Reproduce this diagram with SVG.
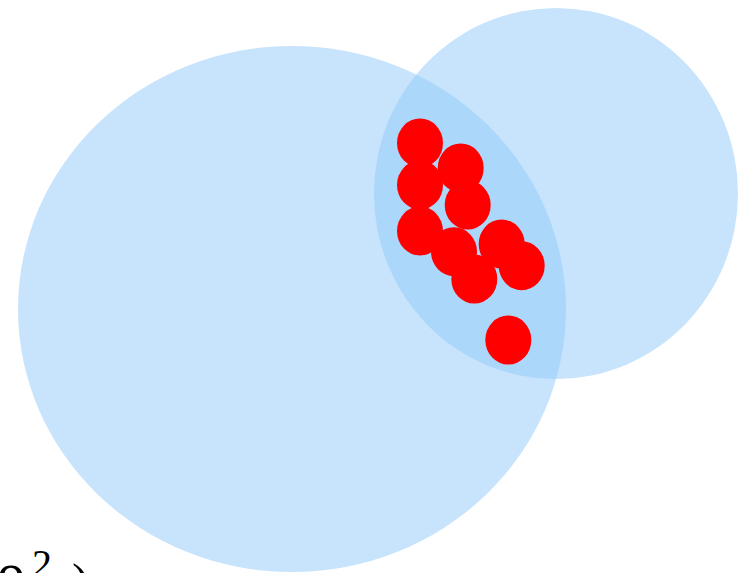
<svg xmlns="http://www.w3.org/2000/svg" width="738" height="573" viewBox="0 0 738 573">
<style>
.set{fill:#90CAF9;fill-opacity:0.5;stroke:none}
.pt{fill:#ff0000;stroke:none}
.lbl{font-family:"Liberation Serif","DejaVu Serif",serif;fill:#000}
</style>
<rect width="738" height="573" fill="#fff"/>
<g id="setA"><ellipse class="set" cx="292" cy="309" rx="274" ry="263"/></g>
<g id="setB"><ellipse class="set" cx="556" cy="193.5" rx="182" ry="185.5"/></g>
<g id="points">
<ellipse class="pt" cx="420" cy="143" rx="23" ry="24.5"/>
<ellipse class="pt" cx="460.7" cy="168" rx="23" ry="24.5"/>
<ellipse class="pt" cx="420" cy="185" rx="23" ry="24.5"/>
<ellipse class="pt" cx="467.7" cy="205" rx="23" ry="24.5"/>
<ellipse class="pt" cx="420" cy="231" rx="23" ry="24.5"/>
<ellipse class="pt" cx="501.7" cy="244" rx="23" ry="24.5"/>
<ellipse class="pt" cx="521.7" cy="265.7" rx="23" ry="24.5"/>
<ellipse class="pt" cx="454" cy="251.7" rx="23" ry="24.5"/>
<ellipse class="pt" cx="474.3" cy="279" rx="23" ry="24.5"/>
<ellipse class="pt" cx="508.3" cy="340" rx="23" ry="24.5"/>
</g>
<g id="label">
<text class="lbl" x="-3" y="592" font-size="56">o</text>
<text class="lbl" x="32" y="577" font-size="40">2</text>
<text class="lbl" x="72" y="600" font-size="52">)</text>
</g>
</svg>
